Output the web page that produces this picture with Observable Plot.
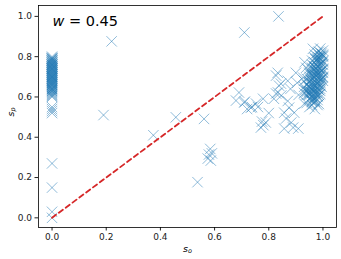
<!DOCTYPE html>
<html>
<head>
<meta charset="utf-8">
<script src="https://cdn.jsdelivr.net/npm/d3@7"></script>
<script src="https://cdn.jsdelivr.net/npm/@observablehq/plot@0.6"></script>
<style>
  html, body { margin: 0; padding: 0; background: #fff; }
  svg { display: block; }
</style>
</head>
<body>
<div id="chart"></div>
<script>
// Points at s_o = 0
const leftY = [0.80, 0.79, 0.79, 0.78, 0.78, 0.77, 0.77, 0.76, 0.76, 0.76, 0.75, 0.75, 0.74, 0.74, 0.74,
  0.73, 0.73, 0.72, 0.72, 0.71, 0.71, 0.70, 0.70, 0.70, 0.69, 0.69, 0.68, 0.68, 0.67, 0.67, 0.66,
  0.66, 0.65, 0.64, 0.64, 0.63, 0.62, 0.61, 0.60, 0.55, 0.54, 0.53, 0.52, 0.27, 0.15, 0.03, 0.0,
  0.795, 0.785, 0.775, 0.765, 0.755, 0.745, 0.735, 0.725, 0.715, 0.705, 0.695, 0.685, 0.675, 0.665,
  0.655, 0.645, 0.635, 0.625, 0.79, 0.78, 0.77, 0.76, 0.75, 0.74, 0.73, 0.72, 0.71, 0.70, 0.69,
  0.68, 0.67, 0.66, 0.65, 0.64, 0.63, 0.615, 0.605];

// Scattered points
const midX = [0.19, 0.22, 0.374, 0.457, 0.561, 0.537, 0.584, 0.579, 0.575, 0.586, 0.59, 0.71, 0.836,
  0.690, 0.679, 0.709, 0.734, 0.753, 0.779, 0.771, 0.789, 0.819, 0.834, 0.827, 0.845, 0.857, 0.864,
  0.883, 0.890, 0.909, 0.875, 0.894, 0.931, 0.938, 0.927, 0.949, 0.712, 0.738, 0.775, 0.838, 0.846,
  0.857, 0.827, 0.80, 0.78, 0.87, 0.91, 0.905, 0.88, 0.963, 0.932, 0.90, 0.833, 0.87, 0.72, 0.76];
const midY = [0.51, 0.876, 0.41, 0.499, 0.491, 0.177, 0.342, 0.314, 0.294, 0.284, 0.32, 0.92, 1.0,
  0.622, 0.582, 0.572, 0.547, 0.567, 0.591, 0.448, 0.473, 0.591, 0.622, 0.706, 0.666, 0.522, 0.493,
  0.473, 0.448, 0.443, 0.547, 0.522, 0.567, 0.745, 0.696, 0.617, 0.577, 0.55, 0.478, 0.656, 0.607,
  0.443, 0.617, 0.52, 0.46, 0.58, 0.61, 0.67, 0.64, 0.839, 0.772, 0.72, 0.72, 0.68, 0.54, 0.55];

// Dense cluster near s_o = 1
const rightX = [0.99, 1.0, 0.98, 0.99, 1.0, 0.97, 0.98, 0.99, 1.0, 0.97, 0.98, 0.99, 1.0, 0.96, 0.97,
  0.98, 0.99, 1.0, 0.96, 0.97, 0.98, 0.99, 1.0, 0.96, 0.97, 0.98, 0.99, 1.0, 0.95, 0.96, 0.97, 0.98,
  0.99, 1.0, 0.95, 0.94, 0.96, 0.97, 0.98, 0.99, 1.0, 0.93, 0.95, 0.96, 0.97, 0.98, 0.99, 0.94, 0.93,
  0.95, 0.96, 0.97, 0.98, 0.99, 0.94, 0.95, 0.96, 0.97, 0.98, 0.93, 0.94, 0.95, 0.96, 0.97, 0.98,
  0.95, 0.96, 0.97, 0.94, 0.96, 0.98, 0.95, 0.97,
  0.985, 0.975, 0.995, 0.985, 0.975, 0.965, 0.985, 0.975, 0.965, 0.955, 0.985, 0.975, 0.965, 0.955,
  0.945, 0.935, 0.995, 0.985, 0.99, 0.995, 0.99, 0.995, 0.99, 0.995, 0.99, 0.985,
  1.0, 0.99, 0.98, 0.97, 1.0, 0.99, 0.98, 0.97, 0.96, 1.0, 0.99, 0.98, 0.97, 0.96, 0.95, 1.0, 0.99,
  0.98, 0.97, 0.96, 0.95, 0.99, 0.98, 0.97, 0.96, 0.95, 0.94, 0.99, 0.98, 0.97, 0.96, 0.95, 0.98,
  0.97, 0.96, 0.95, 0.97, 0.96, 0.985, 0.975, 0.965, 0.955, 0.945, 0.975, 0.965, 0.955];
const rightY = [0.84, 0.83, 0.82, 0.82, 0.81, 0.81, 0.80, 0.80, 0.80, 0.79, 0.79, 0.78, 0.78, 0.78, 0.77,
  0.77, 0.76, 0.76, 0.76, 0.75, 0.75, 0.74, 0.74, 0.74, 0.73, 0.73, 0.72, 0.72, 0.72, 0.71, 0.71, 0.70,
  0.70, 0.70, 0.70, 0.69, 0.69, 0.68, 0.68, 0.68, 0.68, 0.68, 0.67, 0.67, 0.66, 0.66, 0.66, 0.66, 0.65,
  0.65, 0.64, 0.64, 0.64, 0.64, 0.63, 0.63, 0.62, 0.62, 0.62, 0.62, 0.61, 0.61, 0.60, 0.60, 0.60,
  0.59, 0.58, 0.58, 0.57, 0.56, 0.56, 0.55, 0.54,
  0.795, 0.785, 0.765, 0.745, 0.725, 0.705, 0.695, 0.675, 0.655, 0.645, 0.635, 0.615, 0.595, 0.685,
  0.655, 0.635, 0.815, 0.825, 0.79, 0.73, 0.71, 0.69, 0.67, 0.65, 0.63, 0.61,
  0.805, 0.805, 0.785, 0.795, 0.775, 0.765, 0.755, 0.745, 0.745, 0.735, 0.725, 0.715, 0.735, 0.725,
  0.715, 0.695, 0.685, 0.665, 0.695, 0.705, 0.675, 0.655, 0.645, 0.625, 0.665, 0.645, 0.625, 0.615,
  0.605, 0.635, 0.605, 0.625, 0.585, 0.595, 0.575, 0.615, 0.575, 0.585, 0.565, 0.705, 0.755, 0.685,
  0.735, 0.715, 0.645, 0.625, 0.605];

// Reference diagonal
const diagX = [0, 1];
const diagY = [0, 1];

const xTicks = [0, 0.2, 0.4, 0.6, 0.8, 1.0];
const yTicks = [0, 0.2, 0.4, 0.6, 0.8, 1.0];
const titleText = "w = 0.45";

const points = [
  ...leftY.map(y => ({x: 0, y})),
  ...midX.map((x, i) => ({x, y: midY[i]})),
  ...rightX.map((x, i) => ({x, y: rightY[i]}))
];
const diag = diagX.map((x, i) => ({x, y: diagY[i]}));

const chart = Plot.plot({
  width: 341,
  height: 259,
  marginLeft: 38,
  marginRight: 5,
  marginTop: 5,
  marginBottom: 32,
  style: {fontFamily: "DejaVu Sans", fontSize: "9px", color: "#222", background: "#fff"},
  x: {domain: [-0.05, 1.05], ticks: xTicks, tickFormat: d3.format(".1f"), label: null, tickSize: 3.5, tickPadding: 3},
  y: {domain: [-0.048, 1.054], ticks: yTicks, tickFormat: d3.format(".1f"), label: null, tickSize: 3.5, tickPadding: 3},
  marks: [
    Plot.dot(points, {x: "x", y: "y", symbol: "times", r: 4.8, stroke: "#1f77b4", strokeOpacity: 0.5, strokeWidth: 1}),
    Plot.line(diag, {x: "x", y: "y", stroke: "#d62728", strokeWidth: 1.8, strokeDasharray: "5,3.5"}),
    Plot.frame({stroke: "#000", strokeWidth: 0.8}),
    Plot.text([titleText], {frameAnchor: "top-left", dx: 14, dy: 10, fontSize: 14.5, fill: "#000", className: "ttl"}),
    Plot.text(["s_o"], {frameAnchor: "bottom", dy: 24, fontSize: 9.5, fill: "#000", className: "xlab"}),
    Plot.text(["s_p"], {frameAnchor: "left", dx: -28, rotate: -90, fontSize: 9.5, fill: "#000", className: "ylab"})
  ]
});
document.getElementById("chart").appendChild(chart);

// Math-style formatting of texts
const svg = d3.select(chart);
svg.selectAll(".ttl text").each(function() {
  const t = d3.select(this);
  t.text(null);
  t.append("tspan").attr("font-style", "italic").text("w");
  t.append("tspan").text(" = 0.45");
});
function mathLabel(sel, sub) {
  sel.each(function() {
    const t = d3.select(this);
    t.text(null);
    t.append("tspan").attr("font-style", "italic").text("s");
    t.append("tspan").attr("font-style", "italic").attr("font-size", 6.5).attr("dy", "0.25em").text(sub);
  });
}
mathLabel(svg.selectAll(".xlab text"), "o");
mathLabel(svg.selectAll(".ylab text"), "p");
</script>
</body>
</html>
